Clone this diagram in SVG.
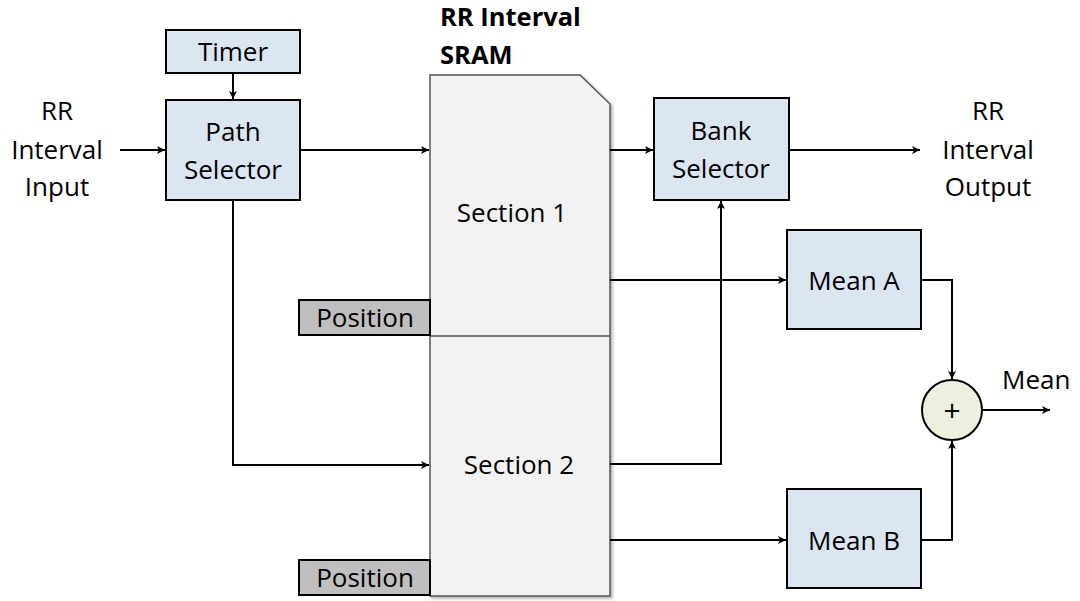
<svg xmlns="http://www.w3.org/2000/svg" width="1080" height="601" viewBox="0 0 1080 601">
  <defs>
    <marker id="arrow" markerWidth="10" markerHeight="10" refX="9" refY="5" orient="auto" markerUnits="userSpaceOnUse">
      <path d="M1,1 L9,5 L1,9 L3,5 Z" fill="#000"/>
    </marker>
    <filter id="shadow" x="-5%" y="-5%" width="115%" height="115%">
      <feDropShadow dx="2" dy="2" stdDeviation="1.5" flood-color="#000" flood-opacity="0.3"/>
    </filter>
    <style>
      text { font-family: "Open Sans", "Noto Sans", sans-serif; font-size: 26px; fill: #000; }
      .title { font-weight: bold; font-size: 25.5px; }
      .mid { text-anchor: middle; }
      .plus { font-size: 30px; }
      .block { fill: #dce6f2; stroke: #000; stroke-width: 2; }
      .pos { fill: #bfbfbf; stroke: #000; stroke-width: 2; }
      .mem { fill: #f2f2f2; stroke: #555; stroke-width: 1.5; }
      .wire { fill: none; stroke: #000; stroke-width: 2; }
      .sum { fill: #ebf1de; stroke: #000; stroke-width: 2; }
    </style>
  </defs>
  <rect width="1080" height="601" fill="#fff"/>

  <!-- free labels -->
  <g id="labels">
    <text class="mid" x="57" y="120">RR</text>
    <text class="mid" x="57" y="159">Interval</text>
    <text class="mid" x="57" y="196">Input</text>
    <text class="mid" x="988" y="120">RR</text>
    <text class="mid" x="988" y="159">Interval</text>
    <text class="mid" x="988" y="196">Output</text>
    <text class="title" x="440" y="26">RR Interval</text>
    <text class="title" x="440" y="64">SRAM</text>
    <text x="1002" y="389">Mean</text>
  </g>

  <!-- memory -->
  <g id="sram">
    <path class="mem" d="M430,75 L580,75 L610,104 L610,596 L430,596 Z" filter="url(#shadow)"/>
    <line x1="430" y1="336" x2="610" y2="336" stroke="#555" stroke-width="1.5"/>
    <text class="mid" x="512" y="222">Section 1</text>
    <text class="mid" x="519" y="474">Section 2</text>
  </g>

  <g id="position1">
    <rect class="pos" x="299" y="300" width="131" height="35"/>
    <text class="mid" x="365" y="327">Position</text>
  </g>
  <g id="position2">
    <rect class="pos" x="299" y="560" width="131" height="35"/>
    <text class="mid" x="365" y="587">Position</text>
  </g>

  <g id="timer">
    <rect class="block" x="166" y="30" width="134" height="43"/>
    <text class="mid" x="233" y="61">Timer</text>
  </g>
  <g id="path-selector">
    <rect class="block" x="166" y="100" width="134" height="100"/>
    <text class="mid" x="233" y="141">Path</text>
    <text class="mid" x="233" y="179">Selector</text>
  </g>
  <g id="bank-selector">
    <rect class="block" x="654" y="98" width="135" height="102"/>
    <text class="mid" x="721" y="140">Bank</text>
    <text class="mid" x="721" y="178">Selector</text>
  </g>
  <g id="mean-a">
    <rect class="block" x="787" y="230" width="134" height="99"/>
    <text class="mid" x="854" y="290">Mean A</text>
  </g>
  <g id="mean-b">
    <rect class="block" x="787" y="489" width="134" height="99"/>
    <text class="mid" x="854" y="550">Mean B</text>
  </g>
  <g id="adder">
    <circle class="sum" cx="952" cy="410" r="30"/>
    <text class="mid plus" x="952" y="421">+</text>
  </g>

  <!-- connectors -->
  <g id="connectors">
    <line class="wire" x1="120" y1="150" x2="165" y2="150" marker-end="url(#arrow)"/>
    <line class="wire" x1="233" y1="73" x2="233" y2="99" marker-end="url(#arrow)"/>
    <line class="wire" x1="300" y1="150" x2="429" y2="150" marker-end="url(#arrow)"/>
    <polyline class="wire" points="233,200 233,465 429,465" marker-end="url(#arrow)"/>
    <line class="wire" x1="610" y1="150" x2="653" y2="150" marker-end="url(#arrow)"/>
    <line class="wire" x1="789" y1="150" x2="920" y2="150" marker-end="url(#arrow)"/>
    <polyline class="wire" points="610,464 721,464 721,201" marker-end="url(#arrow)"/>
    <line class="wire" x1="610" y1="280" x2="786" y2="280" marker-end="url(#arrow)"/>
    <line class="wire" x1="610" y1="540" x2="786" y2="540" marker-end="url(#arrow)"/>
    <polyline class="wire" points="921,280 952,280 952,379" marker-end="url(#arrow)"/>
    <polyline class="wire" points="921,540 952,540 952,441" marker-end="url(#arrow)"/>
    <line class="wire" x1="982" y1="410" x2="1050" y2="410" marker-end="url(#arrow)"/>
  </g>
</svg>
